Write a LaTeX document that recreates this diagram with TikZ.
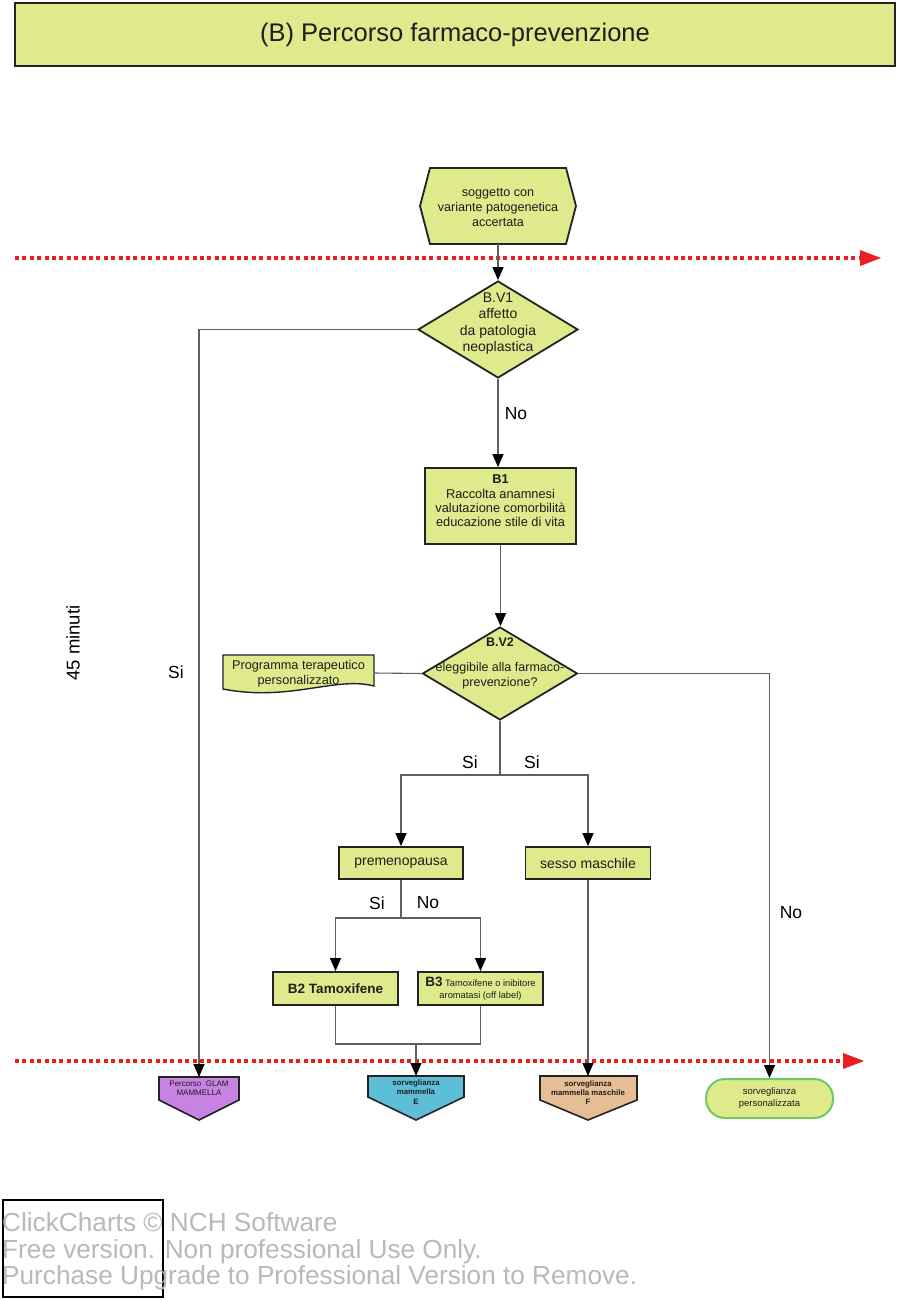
\documentclass[tikz,border=0pt]{standalone}
\usepackage{fontspec}
\setmainfont{Liberation Sans}
\usetikzlibrary{arrows.meta,shapes.geometric,calc}
\definecolor{boxgreen}{RGB}{222,234,140}
\definecolor{edgec}{RGB}{35,35,35}
\definecolor{connc}{RGB}{95,95,95}
\definecolor{redc}{RGB}{235,30,35}
\definecolor{bluefill}{RGB}{95,190,215}
\definecolor{purplefill}{RGB}{200,130,228}
\definecolor{tanfill}{RGB}{230,190,150}
\definecolor{persedge}{RGB}{110,200,100}
\definecolor{wmgray}{RGB}{185,185,185}
\definecolor{txtc}{RGB}{30,30,30}
\begin{document}
\begin{tikzpicture}[x=1pt,y=-1pt,
  conn/.style={draw=connc, line width=1.1pt},
  arr/.style={conn, -{Triangle[width=11pt,length=13pt,color=black]}},
  box/.style={draw=edgec, line width=1.8pt, fill=boxgreen, inner sep=0pt, text=txtc, align=center},
  dia/.style={diamond, draw=edgec, line width=1.8pt, fill=boxgreen, inner sep=0pt},
  shapeline/.style={draw=edgec, line width=1.8pt, line join=miter},
  txt/.style={align=center, text=txtc, inner sep=0pt},
  lbl/.style={inner sep=0pt, text=black, font=\fontsize{17.5}{19}\selectfont},
  reddots/.style={draw=redc, line width=4pt, dash pattern=on 4pt off 3.4pt},
  smalltxt/.style={align=center, text=txtc, inner sep=0pt, font=\fontsize{7.8}{9.2}\selectfont\bfseries}
]
\useasboundingbox (0,0) rectangle (900,1300);
\fill[white] (0,0) rectangle (900,1300);

% title
\node[box, line width=1.2pt, minimum width=880pt, minimum height=63pt, font=\fontsize{25.5}{30}\selectfont] (title) at (455,34.5) {(B) Percorso farmaco-prevenzione};

% red time lines
\coordinate (r1a) at (15,258); \coordinate (r1b) at (860,258);
\draw[reddots] (r1a) -- (r1b);
\fill[redc] (860,250) -- (881,258) -- (860,266) -- cycle;
\coordinate (r2a) at (15,1061); \coordinate (r2b) at (843,1061);
\draw[reddots] (r2a) -- (r2b);
\fill[redc] (843,1053) -- (864,1061) -- (843,1069) -- cycle;

% start hexagon
\draw[shapeline, fill=boxgreen] (420,206) -- (430,168) -- (566,168) -- (576,206) -- (566,244) -- (430,244) -- cycle;
\node[txt, font=\fontsize{12.6}{14.6}\selectfont] (start) at (498,207.5) {soggetto con\\variante patogenetica\\accertata};
\coordinate (startbot) at (498,244);

% decision V1
\node[dia, minimum width=160pt, minimum height=97pt] (v1) at (498,329.5) {};
\node[txt, font=\fontsize{14}{16.3}\selectfont] (v1t) at (498,323.5) {B.V1\\affetto\\da patologia\\neoplastica};

% B1
\node[box, minimum width=151pt, minimum height=76pt] (b1) at (500.5,506) {};
\node[txt, font=\fontsize{12.8}{14.4}\selectfont] (b1t) at (500.5,501) {\textbf{B1}\\Raccolta anamnesi\\valutazione comorbilità\\educazione stile di vita};

% decision V2
\node[dia, minimum width=155pt, minimum height=93pt] (v2) at (500,673.5) {};
\node[txt, font=\fontsize{12.5}{15}\selectfont] (v2t) at (500,663.5) {\textbf{B.V2}\\[10pt]eleggibile alla farmaco-\\prevenzione?};

% document shape
\draw[shapeline, fill=boxgreen, line width=1.4pt] (223,655) -- (374,655) -- (374,686) .. controls (335,676) and (290,702) .. (223,689) -- cycle;
\node[txt, font=\fontsize{12.7}{15}\selectfont] (doc) at (298.5,674) {Programma terapeutico\\personalizzato};
\coordinate (docr) at (374,673);

% premenopausa / sesso maschile
\node[box, minimum width=124pt, minimum height=32pt, font=\fontsize{14}{16}\selectfont] (pre) at (401,863) {premenopausa};
\node[box, minimum width=125pt, minimum height=32pt, font=\fontsize{14}{16}\selectfont] (ses) at (588,863) {sesso maschile};

% B2 / B3
\node[box, minimum width=125pt, minimum height=33pt, font=\fontsize{13.5}{15}\selectfont\bfseries] (b2) at (335.5,988.5) {B2 Tamoxifene};
\node[box, minimum width=125pt, minimum height=33pt, font=\fontsize{9.3}{12}\selectfont] (b3) at (480.5,988.5) {{\fontsize{13.5}{15}\selectfont\bfseries B3} Tamoxifene o inibitore\\aromatasi (off label)};

% end shapes
\draw[shapeline, fill=purplefill, line width=1.6pt] (159,1077) -- (239,1077) -- (239,1100) -- (199,1120) -- (159,1100) -- cycle;
\node[smalltxt, font=\fontsize{8}{9.5}\selectfont] (glam) at (199,1088) {Percorso\ \ GLAM\\MAMMELLA};
\coordinate (glamtop) at (199,1077);

\draw[shapeline, fill=bluefill, line width=1.6pt] (368,1076) -- (464,1076) -- (464,1097) -- (416,1120) -- (368,1097) -- cycle;
\node[smalltxt] (sorvE) at (416,1092) {sorveglianza\\mammella\\E};
\coordinate (Etop) at (416,1076);

\draw[shapeline, fill=tanfill, line width=1.6pt] (540,1076) -- (637,1076) -- (637,1100) -- (588,1120) -- (540,1100) -- cycle;
\node[smalltxt] (sorvF) at (588,1092.5) {sorveglianza\\mammella maschile\\F};
\coordinate (Ftop) at (588,1076);

\node[draw=persedge, line width=2pt, fill=boxgreen, rounded corners=19pt, minimum width=127pt, minimum height=39pt, txt, font=\fontsize{9.5}{12}\selectfont] (pers) at (769.5,1098.5) {sorveglianza\\personalizzata};

% connectors
\draw[arr] (startbot) -- (v1.north);
\draw[arr] (v1.west) -| (glamtop);
\draw[arr] (v1.south) -- (v1.south |- b1.north);
\draw[arr] (b1.south) -- (b1.south |- v2.north);
\draw[conn] (docr) -- (v2.west);
\draw[arr] (v2.east) -| (pers.north);
\coordinate (s1) at (500,775);
\draw[conn] (v2.south) -- (s1);
\draw[arr] (s1) -| (pre.north);
\draw[arr] (s1) -| (ses.north);
\coordinate (s2) at (401,918);
\draw[conn] (pre.south) -- (s2);
\draw[arr] (s2) -| (b2.north);
\draw[arr] (s2) -| (b3.north);
\coordinate (m1) at (416,1044);
\draw[conn] (b2.south) |- (m1) -| (b3.south);
\draw[arr] (m1) -- (Etop);
\draw[arr] (ses.south) -- (Ftop);

% labels
\node[lbl] (lno1) at (516,414) {No};
\node[lbl] (lsi1) at (176,672) {Si};
\node[lbl] (lsi2) at (470,762) {Si};
\node[lbl] (lsi3) at (532,762) {Si};
\node[lbl] (lsi4) at (377,903) {Si};
\node[lbl] (lno2) at (428,903) {No};
\node[lbl] (lno3) at (791,913) {No};

\node[rotate=90, inner sep=0pt, font=\fontsize{18.5}{20}\selectfont] (dur) at (73,643) {45 minuti};

% watermark
\draw[black, line width=1.3pt] (3,1200) rectangle (163,1297);
\node[anchor=west, align=left, inner sep=0pt, text=wmgray, font=\fontsize{26.2}{26.5}\selectfont] (wm) at (2,1251.5) {ClickCharts © NCH Software\\Free version. Non professional Use Only.\\Purchase Upgrade to Professional Version to Remove.};
\end{tikzpicture}
\end{document}
